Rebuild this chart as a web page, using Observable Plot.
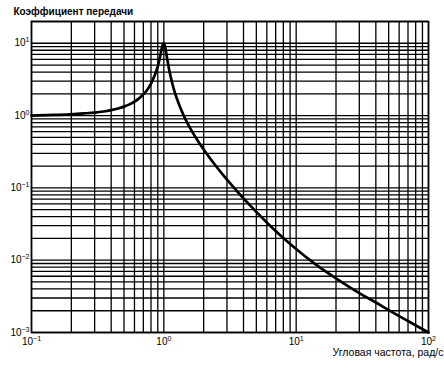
<!DOCTYPE html>
<html>
<head>
<meta charset="utf-8">
<script src="https://cdn.jsdelivr.net/npm/d3@7"></script>
<script src="https://cdn.jsdelivr.net/npm/@observablehq/plot@0.6"></script>
<style>
  html, body { margin: 0; padding: 0; background: #fff; }
</style>
</head>
<body>
<div id="chart"></div>
<script>
// Angular frequency (rad/s) and gain
const omega = [0.1, 0.15, 0.2, 0.25, 0.3, 0.35, 0.4, 0.45, 0.5, 0.55, 0.6, 0.65, 0.7, 0.75, 0.8, 0.85, 0.9, 0.93, 0.96, 0.98, 1.0,
  1.01, 1.03, 1.06, 1.1, 1.15, 1.2, 1.3, 1.4, 1.5, 1.6, 1.8, 2.0, 2.5, 3.0, 3.5, 4, 5, 6, 7, 8, 10, 12, 15, 20, 30, 40, 50, 70, 100];
const gain = [1.0, 1.02, 1.04, 1.07, 1.1, 1.14, 1.19, 1.25, 1.33, 1.43, 1.56, 1.73, 1.96, 2.28, 2.77, 3.55, 4.8, 6.1, 8.1, 9.5, 9.95,
  9.7, 8.3, 6.1, 4.2, 2.94, 2.2, 1.44, 1.04, 0.8, 0.645, 0.452, 0.34, 0.196, 0.13, 0.094, 0.0715, 0.0465, 0.0333, 0.0254, 0.0203, 0.0143, 0.0109, 0.0080, 0.0056, 0.0035, 0.0026, 0.00204, 0.00144, 0.001];

const xTicks = [0.1, 1, 10, 100];
const xTickExp = ["-1", "0", "1", "2"];
const yTicks = [0.001, 0.01, 0.1, 1, 10];
const yTickExp = ["-3", "-2", "-1", "0", "1"];
const xDomain = [0.1, 100];
const yDomain = [0.001, 20];
const yTitle = "Коэффициент передачи";
const xTitle = "Угловая частота, рад/с";

const data = omega.map((w, i) => ({w, g: gain[i]}));

const chart = Plot.plot({
  width: 444,
  height: 365,
  marginLeft: 31,
  marginRight: 16,
  marginTop: 21,
  marginBottom: 33,
  style: {fontFamily: "'Liberation Sans', Arial, sans-serif", background: "#fff", color: "#000"},
  x: {type: "log", domain: xDomain},
  y: {type: "log", domain: yDomain},
  marks: [
    Plot.gridX({ticks: 40, stroke: "#000", strokeOpacity: 1, strokeWidth: 1.3}),
    Plot.gridY({ticks: 40, stroke: "#000", strokeOpacity: 1, strokeWidth: 1.3}),
    Plot.frame({stroke: "#000", strokeWidth: 1.6}),
    Plot.axisX(xTicks, {tickFormat: (d) => "10^" + xTickExp[xTicks.indexOf(d)], tickSize: 0, tickPadding: 5, fontSize: 10, label: null, ariaLabel: "x-axis"}),
    Plot.axisY(yTicks, {tickFormat: (d) => "10^" + yTickExp[yTicks.indexOf(d)], tickSize: 0, tickPadding: 2, fontSize: 10, label: null, ariaLabel: "y-axis"}),
    Plot.line(data, {x: "w", y: "g", stroke: "#000", strokeWidth: 2.7, curve: "monotone-x"}),
    Plot.text([yTitle], {frameAnchor: "top-left", dx: -18, dy: -10, textAnchor: "start", lineAnchor: "middle", fontSize: 10, fontWeight: "bold"}),
    Plot.text([xTitle], {frameAnchor: "bottom-right", dx: 15, dy: 20, textAnchor: "end", lineAnchor: "middle", fontSize: 10.5})
  ]
});

// Render "10^e" tick labels as base with raised superscript exponent
chart.querySelectorAll("text").forEach((t) => {
  const s = t.textContent;
  const m = /^10\^(-?\d)$/.exec(s);
  if (!m) return;
  t.textContent = "";
  const ns = "http://www.w3.org/2000/svg";
  const base = document.createElementNS(ns, "tspan");
  base.textContent = "10";
  const sup = document.createElementNS(ns, "tspan");
  sup.textContent = m[1].replace("-", "\u2212");
  sup.setAttribute("font-size", "7");
  sup.setAttribute("dy", "-4");
  t.appendChild(base);
  t.appendChild(sup);
});

document.getElementById("chart").appendChild(chart);
</script>
</body>
</html>
